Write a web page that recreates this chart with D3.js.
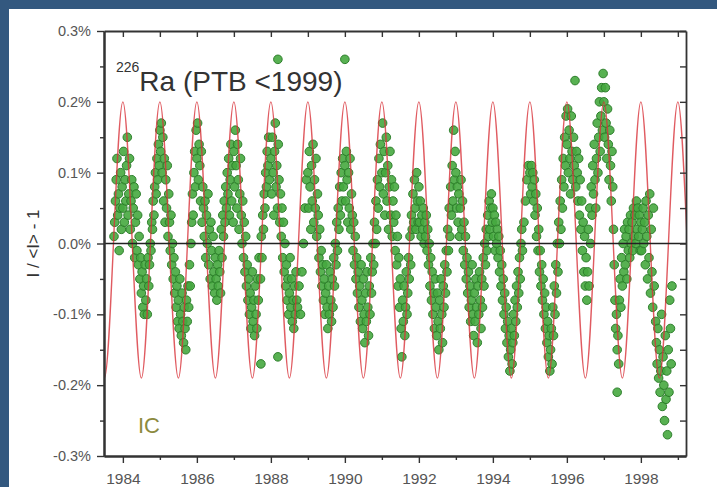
<!DOCTYPE html>
<html>
<head>
<meta charset="utf-8">
<script src="https://cdnjs.cloudflare.com/ajax/libs/d3/7.8.5/d3.min.js"></script>
<style>
  html, body { margin: 0; padding: 0; background: #33587f; }
  svg text { font-family: "Liberation Sans", Arial, Helvetica, sans-serif; }
</style>
</head>
<body>
<div id="chart"></div>
<script>
const pts1984 = [[1983.76,0.01],[1983.78,0.03],[1983.80,0.06],[1983.82,0.09],[1983.84,0.12],[1983.86,0.04],[1983.88,0.07],[1983.90,-0.01],[1983.92,0.05],[1983.94,0.10],[1983.96,0.02],[1983.98,0.08],[1984.00,0.05],[1984.02,0.13],[1984.04,0.03],[1984.06,0.09],[1984.08,0.06],[1984.10,0.11],[1984.12,0.15],[1984.14,0.04],[1984.16,0.07],[1984.18,0.12],[1984.20,0.02],[1984.22,0.06],[1984.24,0.09],[1984.26,0.00],[1984.28,0.05],[1984.30,0.08],[1984.32,-0.02],[1984.34,0.03],[1984.36,0.07],[1984.38,-0.01],[1984.40,0.04],[1984.42,-0.03],[1984.44,0.01],[1984.46,-0.05],[1984.48,-0.02],[1984.50,-0.07],[1984.52,-0.04],[1984.54,-0.09],[1984.56,-0.06],[1984.58,-0.10],[1984.60,-0.03],[1984.62,-0.08],[1984.64,-0.05],[1984.66,-0.10],[1984.68,-0.02],[1984.70,-0.06],[1984.72,-0.03],[1984.74,0.00],[1984.76,-0.01],[1984.78,0.03],[1984.80,0.02],[1984.82,0.06],[1984.84,0.04],[1984.86,0.08],[1984.88,0.10],[1984.90,0.07],[1984.92,0.12],[1984.94,0.09],[1984.96,0.14],[1984.98,0.11]];
const pts1985 = [[1985.00,0.16],[1985.02,0.13],[1985.04,0.17],[1985.06,0.10],[1985.08,0.15],[1985.10,0.06],[1985.12,0.12],[1985.14,0.03],[1985.16,0.09],[1985.18,0.05],[1985.20,0.11],[1985.22,0.01],[1985.24,0.07],[1985.26,0.03],[1985.28,-0.01],[1985.30,0.04],[1985.32,-0.03],[1985.34,0.00],[1985.36,-0.05],[1985.38,-0.02],[1985.40,-0.07],[1985.42,-0.04],[1985.44,-0.09],[1985.46,-0.06],[1985.48,-0.11],[1985.50,-0.08],[1985.52,-0.12],[1985.54,-0.05],[1985.56,-0.10],[1985.58,-0.13],[1985.60,-0.07],[1985.62,-0.11],[1985.64,-0.14],[1985.66,-0.09],[1985.68,-0.12],[1985.70,-0.15],[1985.72,-0.08],[1985.74,-0.11],[1985.76,-0.06],[1985.78,-0.09],[1985.80,-0.03],[1985.82,-0.06],[1985.84,0.00],[1985.86,0.03],[1985.88,0.07],[1985.90,0.04],[1985.92,0.10],[1985.94,0.13],[1985.96,0.08],[1985.98,0.16]];
const pts1986 = [[1986.00,0.12],[1986.02,0.17],[1986.04,0.09],[1986.06,0.14],[1986.08,0.11],[1986.10,0.06],[1986.12,0.13],[1986.14,0.03],[1986.16,0.08],[1986.18,0.05],[1986.20,0.01],[1986.22,0.06],[1986.24,-0.02],[1986.26,0.04],[1986.28,0.00],[1986.30,0.07],[1986.32,-0.03],[1986.34,0.02],[1986.36,-0.05],[1986.38,0.03],[1986.40,-0.01],[1986.42,-0.06],[1986.44,0.01],[1986.46,-0.04],[1986.48,-0.07],[1986.50,-0.02],[1986.52,-0.05],[1986.54,-0.08],[1986.56,-0.03],[1986.58,-0.06],[1986.60,-0.01],[1986.62,-0.04],[1986.64,-0.07],[1986.66,0.02],[1986.68,-0.02],[1986.70,0.04],[1986.72,0.01],[1986.74,0.06],[1986.76,0.03],[1986.78,0.08],[1986.80,0.05],[1986.82,0.10],[1986.84,0.07],[1986.86,0.12],[1986.88,0.04],[1986.90,0.09],[1986.92,0.14],[1986.94,0.06],[1986.96,0.11],[1986.98,0.03]];
const pts1987 = [[1987.00,0.13],[1987.02,0.08],[1987.04,0.16],[1987.06,0.11],[1987.08,0.05],[1987.10,0.14],[1987.12,0.09],[1987.14,0.02],[1987.16,0.07],[1987.18,0.12],[1987.20,0.04],[1987.22,0.00],[1987.24,0.06],[1987.26,-0.02],[1987.28,0.03],[1987.30,-0.04],[1987.32,0.01],[1987.34,-0.06],[1987.36,-0.03],[1987.38,-0.08],[1987.40,-0.05],[1987.42,-0.10],[1987.44,-0.07],[1987.46,-0.12],[1987.48,-0.09],[1987.50,-0.04],[1987.52,-0.11],[1987.54,-0.08],[1987.56,-0.13],[1987.58,-0.06],[1987.60,-0.10],[1987.62,-0.12],[1987.64,-0.05],[1987.66,-0.08],[1987.68,-0.02],[1987.72,-0.05],[1987.73,-0.17],[1987.74,0.01],[1987.76,-0.02],[1987.78,0.04],[1987.80,0.02],[1987.82,0.07],[1987.84,0.05],[1987.86,0.10],[1987.88,0.08],[1987.90,0.13],[1987.92,0.11],[1987.94,0.15],[1987.96,0.09]];
const pts1988 = [[1988.00,0.12],[1988.02,0.07],[1988.04,0.15],[1988.06,0.10],[1988.08,0.04],[1988.10,0.13],[1988.12,0.17],[1988.14,0.08],[1988.16,0.11],[1988.18,0.05],[1988.19,0.26],[1988.19,-0.16],[1988.20,0.14],[1988.22,0.09],[1988.24,0.03],[1988.26,0.07],[1988.28,0.01],[1988.30,0.05],[1988.32,-0.02],[1988.34,0.03],[1988.36,-0.04],[1988.38,0.00],[1988.40,-0.06],[1988.42,-0.03],[1988.44,-0.08],[1988.46,-0.05],[1988.48,-0.10],[1988.50,-0.07],[1988.52,-0.02],[1988.54,-0.09],[1988.56,-0.05],[1988.58,-0.11],[1988.60,-0.08],[1988.62,-0.12],[1988.64,-0.06],[1988.66,-0.10],[1988.68,-0.04],[1988.70,-0.08],[1988.72,-0.09],[1988.76,-0.06],[1988.80,-0.10],[1988.84,-0.04],[1988.88,0.00],[1988.92,0.05],[1988.96,0.09]];
const pts1989 = [[1989.00,0.10],[1989.02,0.05],[1989.04,0.13],[1989.06,0.08],[1989.08,0.02],[1989.10,0.11],[1989.12,0.06],[1989.14,0.14],[1989.16,0.03],[1989.18,0.09],[1989.20,0.05],[1989.22,0.12],[1989.24,0.01],[1989.26,0.07],[1989.28,0.04],[1989.30,-0.02],[1989.32,0.02],[1989.34,-0.04],[1989.36,-0.01],[1989.38,-0.06],[1989.40,-0.03],[1989.42,-0.08],[1989.44,-0.05],[1989.46,-0.10],[1989.48,-0.07],[1989.50,-0.03],[1989.52,-0.09],[1989.54,-0.12],[1989.56,-0.06],[1989.58,-0.10],[1989.60,-0.04],[1989.62,-0.08],[1989.64,-0.11],[1989.66,-0.05],[1989.68,-0.09],[1989.70,-0.02],[1989.72,-0.06],[1989.74,0.00],[1989.76,-0.03],[1989.78,0.03],[1989.80,-0.01],[1989.82,0.05],[1989.84,0.02],[1989.86,0.08],[1989.88,0.04],[1989.90,0.10],[1989.92,0.06],[1989.94,0.12],[1989.96,0.08]];
const pts1990 = [[1990.00,0.26],[1990.00,0.11],[1990.02,0.06],[1990.04,0.13],[1990.06,0.09],[1990.08,0.03],[1990.10,0.10],[1990.12,0.05],[1990.14,0.12],[1990.16,0.02],[1990.18,0.07],[1990.20,0.04],[1990.22,-0.01],[1990.24,0.03],[1990.26,-0.03],[1990.28,0.01],[1990.30,-0.05],[1990.32,-0.02],[1990.34,-0.07],[1990.36,-0.04],[1990.38,-0.09],[1990.40,-0.06],[1990.42,-0.11],[1990.44,-0.03],[1990.46,-0.08],[1990.48,-0.12],[1990.50,-0.05],[1990.52,-0.10],[1990.54,-0.14],[1990.56,-0.07],[1990.58,-0.11],[1990.60,-0.04],[1990.62,-0.09],[1990.64,-0.13],[1990.66,-0.06],[1990.68,-0.10],[1990.70,-0.02],[1990.72,-0.07],[1990.74,-0.04],[1990.76,0.00],[1990.78,-0.03],[1990.80,0.03],[1990.82,0.00],[1990.84,0.06],[1990.86,0.02],[1990.88,0.09],[1990.90,0.05],[1990.92,0.12],[1990.94,0.08],[1990.96,0.14]];
const pts1991 = [[1991.00,0.10],[1991.02,0.17],[1991.04,0.07],[1991.06,0.13],[1991.08,0.04],[1991.10,0.10],[1991.12,0.15],[1991.14,0.06],[1991.16,0.11],[1991.18,0.02],[1991.20,0.08],[1991.22,0.13],[1991.24,0.04],[1991.26,0.09],[1991.28,0.01],[1991.30,0.06],[1991.32,0.03],[1991.34,0.08],[1991.36,-0.01],[1991.38,0.04],[1991.40,-0.03],[1991.42,0.01],[1991.44,-0.06],[1991.46,-0.02],[1991.48,-0.09],[1991.50,-0.05],[1991.52,-0.12],[1991.54,-0.16],[1991.56,-0.08],[1991.58,-0.11],[1991.60,-0.06],[1991.62,-0.13],[1991.64,-0.09],[1991.66,-0.04],[1991.68,-0.10],[1991.70,-0.07],[1991.72,-0.02],[1991.74,-0.05],[1991.76,0.01],[1991.78,-0.03],[1991.80,0.04],[1991.82,0.02],[1991.84,0.07],[1991.86,0.03],[1991.88,0.09],[1991.90,0.05],[1991.92,0.02],[1991.94,0.10],[1991.96,0.06],[1991.98,0.03]];
const pts1992 = [[1992.00,0.08],[1992.02,0.03],[1992.04,0.06],[1992.06,0.01],[1992.08,0.04],[1992.10,0.02],[1992.12,0.05],[1992.14,0.00],[1992.16,0.03],[1992.18,0.01],[1992.20,0.04],[1992.22,-0.01],[1992.24,0.02],[1992.26,-0.03],[1992.28,0.00],[1992.30,-0.06],[1992.32,-0.02],[1992.34,-0.08],[1992.36,-0.04],[1992.38,-0.10],[1992.40,-0.07],[1992.42,-0.12],[1992.44,-0.05],[1992.46,-0.09],[1992.48,-0.13],[1992.50,-0.07],[1992.52,-0.11],[1992.54,-0.15],[1992.56,-0.08],[1992.58,-0.12],[1992.60,-0.05],[1992.62,-0.10],[1992.64,-0.14],[1992.66,-0.06],[1992.68,-0.09],[1992.70,-0.03],[1992.72,-0.07],[1992.74,-0.01],[1992.76,-0.04],[1992.78,0.02],[1992.80,-0.01],[1992.82,0.05],[1992.84,0.01],[1992.86,0.08],[1992.88,0.04],[1992.90,0.11],[1992.92,0.06],[1992.94,0.16],[1992.96,0.09],[1992.98,0.13]];
const pts1993 = [[1993.00,0.10],[1993.02,0.05],[1993.04,0.08],[1993.06,0.03],[1993.08,0.07],[1993.10,0.01],[1993.12,0.05],[1993.14,0.09],[1993.16,0.02],[1993.18,0.06],[1993.20,-0.01],[1993.22,0.03],[1993.24,-0.03],[1993.26,0.01],[1993.28,-0.05],[1993.30,-0.02],[1993.32,-0.07],[1993.34,-0.04],[1993.36,-0.09],[1993.38,-0.06],[1993.40,-0.11],[1993.42,-0.08],[1993.44,-0.03],[1993.46,-0.10],[1993.48,-0.13],[1993.50,-0.07],[1993.52,-0.11],[1993.54,-0.05],[1993.56,-0.09],[1993.58,-0.14],[1993.60,-0.06],[1993.62,-0.10],[1993.64,-0.04],[1993.66,-0.08],[1993.68,-0.12],[1993.70,-0.05],[1993.72,-0.09],[1993.74,-0.02],[1993.76,-0.06],[1993.78,0.00],[1993.80,-0.03],[1993.82,0.02],[1993.84,-0.01],[1993.86,0.04],[1993.88,0.01],[1993.90,0.06],[1993.92,0.02],[1993.94,0.05],[1993.96,0.07],[1993.98,0.03]];
const pts1994 = [[1994.00,0.05],[1994.02,0.01],[1994.04,0.04],[1994.06,-0.01],[1994.08,0.03],[1994.10,0.00],[1994.12,0.02],[1994.14,-0.02],[1994.16,0.01],[1994.18,-0.04],[1994.20,-0.01],[1994.22,-0.06],[1994.24,-0.03],[1994.26,-0.08],[1994.28,-0.05],[1994.30,-0.10],[1994.32,-0.07],[1994.34,-0.12],[1994.36,-0.09],[1994.38,-0.14],[1994.40,-0.11],[1994.42,-0.16],[1994.44,-0.13],[1994.46,-0.18],[1994.48,-0.15],[1994.50,-0.12],[1994.52,-0.17],[1994.54,-0.14],[1994.56,-0.10],[1994.58,-0.13],[1994.60,-0.08],[1994.62,-0.11],[1994.64,-0.06],[1994.66,-0.09],[1994.68,-0.04],[1994.70,-0.07],[1994.72,-0.02],[1994.74,-0.05],[1994.76,0.00],[1994.78,0.02],[1994.80,-0.01],[1994.84,0.03],[1994.88,0.06],[1994.92,0.09],[1994.96,0.11]];
const pts1995 = [[1995.00,0.10],[1995.02,0.07],[1995.04,0.11],[1995.06,0.08],[1995.08,0.10],[1995.10,0.06],[1995.12,0.09],[1995.14,0.04],[1995.16,0.07],[1995.18,0.01],[1995.20,0.05],[1995.22,-0.01],[1995.24,0.02],[1995.26,-0.04],[1995.28,-0.01],[1995.30,-0.06],[1995.32,-0.03],[1995.34,-0.08],[1995.36,-0.05],[1995.38,-0.10],[1995.40,-0.07],[1995.42,-0.12],[1995.44,-0.09],[1995.46,-0.14],[1995.48,-0.11],[1995.50,-0.16],[1995.52,-0.13],[1995.54,-0.18],[1995.56,-0.15],[1995.58,-0.12],[1995.60,-0.17],[1995.62,-0.09],[1995.64,-0.13],[1995.66,-0.06],[1995.68,-0.10],[1995.70,-0.03],[1995.72,-0.07],[1995.74,0.00],[1995.76,-0.04],[1995.78,0.03],[1995.80,0.00],[1995.82,0.06],[1995.84,0.02],[1995.86,0.09],[1995.88,0.05],[1995.90,0.12],[1995.92,0.08],[1995.94,0.15],[1995.96,0.11],[1995.98,0.18]];
const pts1996 = [[1996.00,0.14],[1996.02,0.19],[1996.04,0.10],[1996.06,0.16],[1996.08,0.12],[1996.10,0.07],[1996.12,0.18],[1996.14,0.13],[1996.16,0.09],[1996.18,0.15],[1996.20,0.11],[1996.22,0.23],[1996.24,0.08],[1996.26,0.13],[1996.28,0.10],[1996.30,0.06],[1996.32,0.12],[1996.34,0.04],[1996.36,0.09],[1996.38,0.02],[1996.40,0.06],[1996.42,-0.01],[1996.44,0.03],[1996.46,-0.04],[1996.48,0.01],[1996.50,-0.06],[1996.52,-0.02],[1996.54,-0.08],[1996.56,-0.04],[1996.58,0.02],[1996.60,-0.06],[1996.62,0.05],[1996.64,0.00],[1996.66,0.08],[1996.68,0.04],[1996.70,0.11],[1996.72,0.07],[1996.74,0.14],[1996.76,0.09],[1996.78,0.05],[1996.80,0.12],[1996.82,0.17],[1996.84,0.10],[1996.86,0.15],[1996.88,0.20],[1996.90,0.13],[1996.92,0.18],[1996.94,0.22],[1996.96,0.16],[1996.98,0.24]];
const pts1997 = [[1997.00,0.20],[1997.02,0.15],[1997.04,0.22],[1997.06,0.17],[1997.08,0.12],[1997.10,0.19],[1997.12,0.14],[1997.14,0.09],[1997.16,0.16],[1997.18,0.11],[1997.20,0.06],[1997.22,0.13],[1997.24,0.08],[1997.26,0.02],[1997.28,-0.03],[1997.30,-0.08],[1997.32,-0.12],[1997.34,-0.10],[1997.36,-0.15],[1997.36,-0.21],[1997.38,-0.13],[1997.40,-0.17],[1997.42,-0.08],[1997.44,-0.05],[1997.46,-0.09],[1997.48,-0.02],[1997.50,-0.06],[1997.52,0.00],[1997.54,-0.04],[1997.56,0.02],[1997.58,-0.03],[1997.60,0.01],[1997.62,-0.05],[1997.64,0.03],[1997.66,-0.01],[1997.68,0.02],[1997.70,-0.02],[1997.72,0.04],[1997.74,0.00],[1997.76,0.03],[1997.78,-0.01],[1997.80,0.05],[1997.82,0.01],[1997.84,0.04],[1997.86,0.00],[1997.88,0.06],[1997.90,0.02],[1997.92,0.05],[1997.94,0.01],[1997.96,0.04],[1997.98,-0.01]];
const pts1998 = [[1998.00,0.03],[1998.02,-0.01],[1998.04,0.02],[1998.06,0.05],[1998.08,0.00],[1998.10,0.03],[1998.12,-0.03],[1998.14,0.06],[1998.16,0.01],[1998.18,-0.05],[1998.20,0.04],[1998.22,-0.02],[1998.24,0.07],[1998.26,-0.07],[1998.28,0.02],[1998.30,-0.04],[1998.32,-0.09],[1998.34,0.05],[1998.36,-0.06],[1998.40,-0.11],[1998.42,-0.14],[1998.44,-0.17],[1998.46,-0.12],[1998.48,-0.19],[1998.50,-0.15],[1998.52,-0.21],[1998.54,-0.18],[1998.56,-0.10],[1998.58,-0.23],[1998.60,-0.16],[1998.62,-0.20],[1998.64,-0.25],[1998.66,-0.13],[1998.68,-0.22],[1998.70,-0.18],[1998.72,-0.27],[1998.74,-0.15],[1998.76,-0.21],[1998.78,-0.08],[1998.80,-0.12],[1998.82,-0.17],[1998.84,-0.06]];

// turning points of the red annual curve
const peakYears = [1983, 1984, 1985, 1986, 1987, 1988, 1989, 1990, 1991, 1992, 1993, 1994, 1995, 1996, 1997, 1998, 1999, 2000];
const troughYears = [1982.5, 1983.5, 1984.5, 1985.5, 1986.5, 1987.5, 1988.5, 1989.5, 1990.5, 1991.5, 1992.5, 1993.5, 1994.5, 1995.5, 1996.5, 1997.5, 1998.5, 1999.5];
const peakLevel = 0.2;
const troughLevel = -0.19;

const majorYears = [1984, 1986, 1988, 1990, 1992, 1994, 1996, 1998];
const minorYears = [1985, 1987, 1989, 1991, 1993, 1995, 1997, 1999];
const yMajor = [-0.3, -0.2, -0.1, 0.0, 0.1, 0.2, 0.3];
const yMinor = [-0.25, -0.15, -0.05, 0.05, 0.15, 0.25];

const W = 717, H = 487;
const margin = {top: 31, right: 31, bottom: 31, left: 104};

const svg = d3.select('#chart').append('svg')
    .attr('width', W).attr('height', H);

svg.append('rect').attr('width', W).attr('height', H).attr('fill', '#33587f');
svg.append('rect').attr('x', 9).attr('y', 9).attr('width', W - 9).attr('height', H - 9).attr('fill', '#fff');

const x = d3.scaleLinear().domain([1983.49, 1999.22]).range([margin.left, W - margin.right]);
const y = d3.scaleLinear().domain([-0.3, 0.3]).range([H - margin.bottom, margin.top]);

svg.append('clipPath').attr('id', 'plot')
  .append('rect')
    .attr('x', margin.left).attr('y', margin.top)
    .attr('width', x.range()[1] - x.range()[0])
    .attr('height', y.range()[0] - y.range()[1]);

const points = [].concat(pts1984, pts1985, pts1986, pts1987, pts1988, pts1989, pts1990,
  pts1991, pts1992, pts1993, pts1994, pts1995, pts1996, pts1997, pts1998);

svg.append('g')
  .selectAll('circle')
  .data(points)
  .join('circle')
    .attr('cx', d => x(d[0]))
    .attr('cy', d => y(d[1]))
    .attr('r', 4.3)
    .attr('fill', '#46a83f')
    .attr('fill-opacity', 0.9)
    .attr('stroke', '#2e7f2c')
    .attr('stroke-width', 1);

// annual curve through its maxima and minima
const turns = peakYears.map(t => [t, peakLevel])
  .concat(troughYears.map(t => [t, troughLevel]))
  .sort((a, b) => a[0] - b[0]);

svg.append('path')
  .datum(turns)
  .attr('clip-path', 'url(#plot)')
  .attr('fill', 'none')
  .attr('stroke', '#d8323a')
  .attr('stroke-opacity', 0.8)
  .attr('stroke-width', 1.4)
  .attr('d', d3.line().x(d => x(d[0])).y(d => y(d[1])).curve(d3.curveMonotoneX));

// zero line
svg.append('line')
  .attr('x1', x.range()[0]).attr('x2', x.range()[1])
  .attr('y1', y(0)).attr('y2', y(0))
  .attr('stroke', '#222').attr('stroke-width', 1.6);

const pct = v => v.toFixed(1) + '%';

function styleAxis(g) {
  g.select('.domain').attr('stroke', '#333').attr('stroke-width', 1.8);
  g.selectAll('.tick line').attr('stroke', '#333').attr('stroke-width', 1.4);
  g.selectAll('.tick text').attr('fill', '#555');
}

// bottom
svg.append('g')
  .attr('transform', `translate(0,${y.range()[0]})`)
  .call(d3.axisBottom(x).tickValues(majorYears).tickFormat(d3.format('d')).tickSizeInner(7).tickSizeOuter(0).tickPadding(10))
  .call(styleAxis)
  .call(g => g.selectAll('.tick text').attr('font-size', 15.5));
svg.append('g')
  .attr('transform', `translate(0,${y.range()[0]})`)
  .call(d3.axisBottom(x).tickValues(minorYears).tickFormat('').tickSizeInner(4).tickSizeOuter(0))
  .call(styleAxis);

// top, ticks inward
svg.append('g')
  .attr('transform', `translate(0,${y.range()[1]})`)
  .call(d3.axisTop(x).tickValues(majorYears.concat(minorYears)).tickFormat('').tickSizeInner(-6).tickSizeOuter(0))
  .call(styleAxis);

// left
svg.append('g')
  .attr('transform', `translate(${x.range()[0]},0)`)
  .call(d3.axisLeft(y).tickValues(yMajor).tickFormat(pct).tickSizeInner(7).tickSizeOuter(0).tickPadding(6))
  .call(styleAxis)
  .call(g => g.select('.domain').attr('stroke-width', 2.2))
  .call(g => g.selectAll('.tick text').attr('font-size', 14.5));
svg.append('g')
  .attr('transform', `translate(${x.range()[0]},0)`)
  .call(d3.axisLeft(y).tickValues(yMinor).tickFormat('').tickSizeInner(4).tickSizeOuter(0))
  .call(styleAxis);

// right, ticks inward
svg.append('g')
  .attr('transform', `translate(${x.range()[1]},0)`)
  .call(d3.axisRight(y).tickValues(yMajor.concat(yMinor)).tickFormat('').tickSizeInner(-6).tickSizeOuter(0))
  .call(styleAxis);

// axis title
svg.append('text')
  .attr('transform', `translate(39,${y(0)}) rotate(-90)`)
  .attr('text-anchor', 'middle')
  .attr('font-size', 17)
  .attr('fill', '#333')
  .text('I / <I> - 1');

// panel title
const title = svg.append('text')
  .attr('x', 116).attr('y', 91)
  .attr('fill', '#333');
title.append('tspan').attr('font-size', 14).attr('dy', -19).text('226');
title.append('tspan').attr('font-size', 28).attr('dy', 19).text('Ra (PTB <1999)');

svg.append('text')
  .attr('x', 138).attr('y', 433)
  .attr('font-size', 22)
  .attr('fill', '#8c8a3e')
  .text('IC');
</script>
</body>
</html>
